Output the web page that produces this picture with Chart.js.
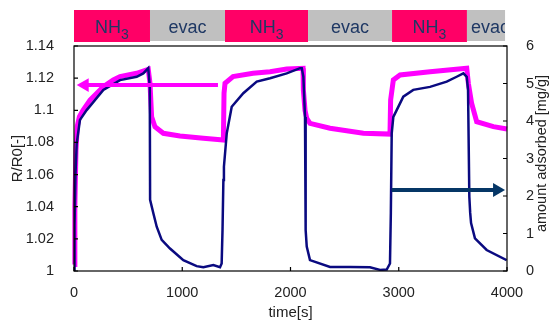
<!DOCTYPE html>
<html>
<head>
<meta charset="utf-8">
<script src="https://cdn.jsdelivr.net/npm/chart.js@4.4.0/dist/chart.umd.min.js"></script>
<style>
html, body { margin: 0; padding: 0; background: #fff; }
#wrap { position: relative; width: 551px; height: 322px; }
</style>
</head>
<body>
<div id="wrap"><canvas id="chart"></canvas></div>
<script>
// R/R0 - eixo esquerdo
const ratioTime = [0, 8, 18, 30, 50, 83, 148, 271, 363, 425, 579, 686, 702, 717, 748, 825, 979, 1195, 1380,
    1386, 1395, 1469, 1654, 1811, 1965, 2116, 2119, 2134, 2150, 2180, 2365, 2519, 2673, 2919,
    2925, 2950, 3012, 3289, 3628, 3643, 3673, 3720, 3874, 4000];
const ratioValue = [1.004, 1.04, 1.075, 1.09, 1.096, 1.100, 1.1064, 1.1147, 1.1189, 1.121, 1.123, 1.1255, 1.1168, 1.096, 1.0898, 1.0857, 1.084, 1.0826, 1.0815,
    1.1106, 1.1168, 1.121, 1.123, 1.124, 1.1257, 1.1261, 1.1126, 1.100, 1.095, 1.0919, 1.0888, 1.0873, 1.0857, 1.0852,
    1.1064, 1.1189, 1.122, 1.124, 1.1261, 1.1168, 1.1044, 1.0929, 1.0898, 1.0884];

// amount adsorbed [mg/g] - eixo direito
const adsTime = [0, 5, 14, 25, 55, 117, 271, 425, 579, 640, 686, 700, 703, 733, 764, 810, 887, 1010, 1133, 1195, 1287, 1349, 1364,
    1372, 1380, 1385, 1411, 1457, 1564, 1688, 1811, 1965, 2088, 2104, 2119, 2134, 2140, 2150, 2180, 2365, 2550, 2734, 2827, 2889, 2919,
    2927, 2935, 2950, 2981, 3042, 3134, 3289, 3443, 3535, 3597, 3628, 3640, 3652, 3660, 3668, 3704, 3812, 3997];
const adsValue = [0, 1.2, 2.6, 3.4, 4.03, 4.29, 4.83, 5.09, 5.18, 5.27, 5.41, 4.9, 1.9, 1.54, 1.18, 0.83, 0.6, 0.29, 0.13, 0.1, 0.16, 0.1, 0.2,
    1.09, 2.43, 2.78, 3.67, 4.38, 4.74, 5.05, 5.14, 5.27, 5.41, 5.41, 5.18, 4.11, 1.09, 0.65, 0.29, 0.11, 0.11, 0.1, 0.03, 0.04, 0.2,
    1.55, 3.67, 4.11, 4.29, 4.65, 4.83, 4.91, 5.05, 5.18, 5.27, 5.18, 4.83, 1.98, 1.55, 1.28, 0.87, 0.56, 0.29];

// fases do gás na faixa superior
const phaseLabels = ['NH3', 'evac', 'NH3', 'evac', 'NH3', 'evac'];
const phaseStart = [0, 702, 1395, 2162, 2938, 3630];
const phaseEnd = [702, 1395, 2162, 2938, 3630, 3982];

// setas indicando o eixo de cada série
const ratioArrowTime = [1330, 99];
const ratioArrowValue = [1.1157, 1.1157];
const adsArrowTime = [2935, 3908];
const adsArrowValue = [2.16, 2.16];

// ticks
const xTicks = [0, 1000, 2000, 3000, 4000];
const leftTicks = [1, 1.02, 1.04, 1.06, 1.08, 1.1, 1.12, 1.14];
const rightTicks = [0, 1, 2, 3, 4, 5, 6];

const toPoints = (xs, ys) => xs.map((x, i) => ({ x: x, y: ys[i] }));
const fontFamily = 'Liberation Sans, Arial, sans-serif';
const tickFont = { family: fontFamily, size: 14.5 };
const textColor = '#222';

// faixa NH3 / evac acima do gráfico
const phaseBand = {
    id: 'phaseBand',
    afterDraw(chart) {
        const ctx = chart.ctx;
        const xs = chart.scales.x;
        phaseLabels.forEach((label, i) => {
            const x0 = xs.getPixelForValue(phaseStart[i]);
            const x1 = xs.getPixelForValue(phaseEnd[i]);
            const gas = label === 'NH3';
            const top = 10, h = gas ? 32 : 31;
            ctx.save();
            ctx.fillStyle = gas ? '#FF0066' : '#C0C0C0';
            ctx.fillRect(x0, top, x1 - x0, h);
            ctx.beginPath();
            ctx.rect(x0, top, x1 - x0, h);
            ctx.clip();
            ctx.fillStyle = '#1F3864';
            ctx.textBaseline = 'alphabetic';
            ctx.textAlign = 'left';
            const main = gas ? 'NH' : label;
            ctx.font = '18px ' + fontFamily;
            const w1 = ctx.measureText(main).width;
            let w2 = 0;
            if (gas) {
                ctx.font = '14px ' + fontFamily;
                w2 = ctx.measureText('3').width;
            }
            const total = w1 + w2;
            let start = (x0 + x1) / 2 - total / 2;
            if (total > x1 - x0 - 8) start = x0 + 4;
            ctx.font = '18px ' + fontFamily;
            ctx.fillText(main, start, 33);
            if (gas) {
                ctx.font = '14px ' + fontFamily;
                ctx.fillText('3', start + w1, 39);
            }
            ctx.restore();
        });
    }
};

// moldura, ticks internos e título do eixo direito
const frame = {
    id: 'frame',
    afterDatasetsDraw(chart) {
        const { ctx, chartArea: a, scales } = chart;
        ctx.save();
        ctx.strokeStyle = '#000';
        ctx.lineWidth = 1.2;
        ctx.strokeRect(a.left, a.top, a.right - a.left, a.bottom - a.top);
        ctx.beginPath();
        xTicks.forEach(v => {
            const p = scales.x.getPixelForValue(v);
            ctx.moveTo(p, a.bottom); ctx.lineTo(p, a.bottom - 4);
        });
        leftTicks.forEach(v => {
            const p = scales.y.getPixelForValue(v);
            ctx.moveTo(a.left, p); ctx.lineTo(a.left + 4, p);
        });
        rightTicks.forEach(v => {
            const p = scales.y1.getPixelForValue(v);
            ctx.moveTo(a.right, p); ctx.lineTo(a.right - 4, p);
        });
        ctx.stroke();
        ctx.translate(542, (a.top + a.bottom) / 2 - 5);
        ctx.rotate(-Math.PI / 2);
        ctx.fillStyle = textColor;
        ctx.font = '14.5px ' + fontFamily;
        ctx.textAlign = 'center';
        ctx.textBaseline = 'middle';
        ctx.fillText('amount adsorbed [mg/g]', 0, 0);
        ctx.restore();
    }
};

new Chart(document.getElementById('chart'), {
    type: 'line',
    data: {
        datasets: [
            {
                label: 'R/R0',
                data: toPoints(ratioTime, ratioValue),
                yAxisID: 'y',
                borderColor: '#FF00FF',
                borderWidth: 5,
                pointRadius: 0,
                tension: 0,
                clip: 5,
                order: 3
            },
            {
                label: 'amount adsorbed',
                data: toPoints(adsTime, adsValue),
                yAxisID: 'y1',
                borderColor: '#0A0A80',
                borderWidth: 2.5,
                pointRadius: 0,
                tension: 0,
                order: 2
            },
            {
                label: 'arrow R/R0',
                data: toPoints(ratioArrowTime, ratioArrowValue),
                yAxisID: 'y',
                borderColor: '#FF00FF',
                backgroundColor: '#FF00FF',
                borderWidth: 4,
                pointStyle: 'triangle',
                pointRadius: [0, 8],
                pointRotation: -90,
                pointBorderWidth: 0,
                order: 1
            },
            {
                label: 'arrow adsorbed',
                data: toPoints(adsArrowTime, adsArrowValue),
                yAxisID: 'y1',
                borderColor: '#053666',
                backgroundColor: '#053666',
                borderWidth: 4,
                pointStyle: 'triangle',
                pointRadius: [0, 8],
                pointRotation: 90,
                pointBorderWidth: 0,
                order: 1
            }
        ]
    },
    options: {
        responsive: true,
        maintainAspectRatio: false,
        animation: false,
        layout: { padding: { top: 46, left: 0, right: 0, bottom: 0 } },
        plugins: {
            legend: { display: false },
            tooltip: { enabled: false }
        },
        scales: {
            x: {
                type: 'linear',
                min: 0,
                max: 4000,
                afterBuildTicks: s => { s.ticks = xTicks.map(v => ({ value: v })); },
                ticks: { font: tickFont, color: textColor, padding: 5, maxRotation: 0, callback: v => String(v) },
                grid: { display: false },
                border: { display: false },
                title: {
                    display: true,
                    text: 'time[s]',
                    font: { family: fontFamily, size: 15 },
                    color: textColor,
                    padding: { top: 0, bottom: 0 }
                },
                afterFit: s => { s.height = 51; }
            },
            y: {
                position: 'left',
                min: 1,
                max: 1.14,
                afterBuildTicks: s => { s.ticks = leftTicks.map(v => ({ value: v })); },
                ticks: {
                    font: tickFont,
                    color: textColor,
                    padding: 12,
                    callback: v => String(+v.toFixed(2))
                },
                grid: { display: false },
                border: { display: false },
                title: {
                    display: true,
                    text: 'R/R0[-]',
                    font: { family: fontFamily, size: 15 },
                    color: textColor,
                    padding: { top: 9, bottom: 0 }
                },
                afterFit: s => { s.width = 74; }
            },
            y1: {
                position: 'right',
                min: 0,
                max: 6,
                afterBuildTicks: s => { s.ticks = rightTicks.map(v => ({ value: v })); },
                ticks: { font: tickFont, color: textColor, padding: 11 },
                grid: { display: false },
                border: { display: false },
                afterFit: s => { s.width = 44; }
            }
        }
    },
    plugins: [phaseBand, frame]
});
</script>
</body>
</html>
